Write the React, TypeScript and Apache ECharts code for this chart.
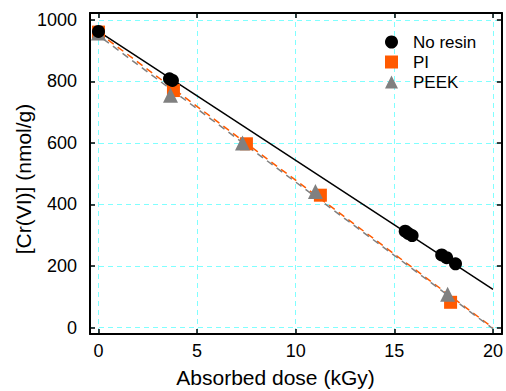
import React, { useEffect, useRef } from 'react';
import * as echarts from 'echarts';

const seriesNames = ['No resin', 'PI', 'PEEK'];
const noResin: number[][] = [[0, 962], [3.6, 808], [3.75, 803], [15.55, 313], [15.7, 306], [15.9, 299], [17.4, 236], [17.65, 227], [18.1, 207]];
const piData: number[][] = [[0, 960], [3.8, 770], [7.5, 597], [11.25, 430], [17.85, 82]];
const peekData: number[][] = [[0, 957], [3.65, 755], [7.3, 600], [11.0, 442], [17.7, 108]];
const fitNoResin: number[][] = [[0, 962], [20, 124]];
const fitPI: number[][] = [[0, 958], [20, -1]];
const fitPEEK: number[][] = [[0, 949], [20, -4]];
const xName = 'Absorbed dose (kGy)';
const yName = '[Cr(VI)] (nmol/g)';

const FONT = '"Liberation Sans", Arial, sans-serif';
const ORANGE = '#ff5a00';
const GRAY = '#808080';
const CYAN = '#80ffff';

export default function App() {
  const ref = useRef<HTMLDivElement>(null);
  useEffect(() => {
    document.body.style.margin = '0';
    if (!ref.current) return;
    const chart = echarts.init(ref.current, null, { renderer: 'svg' });
    const xRange = { min: -0.43, max: 20.45 };
    const yRange = { min: -21, max: 1022 };
    const axisLine = { show: true, onZero: false, lineStyle: { color: '#000', width: 2 } };
    const tick = { show: true, inside: true, length: 5, lineStyle: { color: '#000', width: 1.5 } };
    chart.setOption({
      animation: false,
      backgroundColor: '#fff',
      grid: { left: 90, right: 4, top: 13, bottom: 57 },
      legend: {
        data: seriesNames,
        orient: 'vertical',
        left: 385,
        top: 32,
        itemWidth: 13,
        itemHeight: 13,
        itemGap: 0,
        padding: 0,
        textStyle: { fontFamily: FONT, fontSize: 17, color: '#000', lineHeight: 20, padding: [0, 0, 0, 10] },
      },
      xAxis: [
        {
          type: 'value', ...xRange, splitNumber: 5,
          axisLine, axisTick: tick,
          axisLabel: {
            show: true, margin: 8, color: '#000', fontFamily: FONT, fontSize: 18,
            showMinLabel: false, showMaxLabel: false,
            formatter: (v: number) => (Math.abs(v % 5) < 1e-9 ? String(v) : ''),
          },
          splitLine: { show: true, lineStyle: { color: CYAN, type: [5, 4], width: 1 } },
        },
        {
          type: 'value', position: 'top', ...xRange, splitNumber: 5,
          axisLine, axisTick: tick, axisLabel: { show: false }, splitLine: { show: false },
        },
      ],
      yAxis: [
        {
          type: 'value', ...yRange, splitNumber: 5,
          axisLine, axisTick: tick,
          axisLabel: {
            show: true, margin: 13, color: '#000', fontFamily: FONT, fontSize: 18,
            showMinLabel: false, showMaxLabel: false,
            formatter: (v: number) => (Math.abs(v % 200) < 1e-9 ? String(v) : ''),
          },
          splitLine: { show: true, lineStyle: { color: CYAN, type: [5, 4], width: 1 } },
        },
        {
          type: 'value', position: 'right', ...yRange, splitNumber: 5,
          axisLine, axisTick: tick, axisLabel: { show: false }, splitLine: { show: false },
        },
      ],
      series: [
        {
          type: 'line', data: fitNoResin, showSymbol: false, silent: true,
          lineStyle: { color: '#000', width: 1.5 }, z: 2,
        },
        {
          type: 'line', data: fitPI, showSymbol: false, silent: true,
          lineStyle: { color: ORANGE, width: 1.5, type: [7, 5] }, z: 2,
        },
        {
          type: 'line', data: fitPEEK, showSymbol: false, silent: true,
          lineStyle: { color: GRAY, width: 1.5, type: [7, 5], dashOffset: 6 }, z: 2,
        },
        {
          name: 'PI', type: 'scatter', data: piData, symbol: 'rect', symbolSize: 13,
          itemStyle: { color: ORANGE, opacity: 1 }, z: 3,
        },
        {
          name: 'PEEK', type: 'scatter', data: peekData, symbol: 'triangle', symbolSize: 15,
          itemStyle: { color: GRAY, opacity: 1 }, z: 4,
        },
        {
          name: 'No resin', type: 'scatter', data: noResin, symbol: 'circle', symbolSize: 13,
          itemStyle: { color: '#000', opacity: 1 }, z: 5,
        },
      ],
      graphic: [
        {
          type: 'text', x: 275.5, y: 377,
          style: { text: xName, fontFamily: FONT, fontSize: 21, fill: '#000', align: 'center', verticalAlign: 'middle' },
        },
        {
          type: 'text', x: 23, y: 179, rotation: Math.PI / 2,
          style: { text: yName, fontFamily: FONT, fontSize: 21, fill: '#000', align: 'center', verticalAlign: 'middle' },
        },
      ],
    });
    return () => chart.dispose();
  }, []);
  return <div ref={ref} style={{ width: 506, height: 391 }} />;
}
